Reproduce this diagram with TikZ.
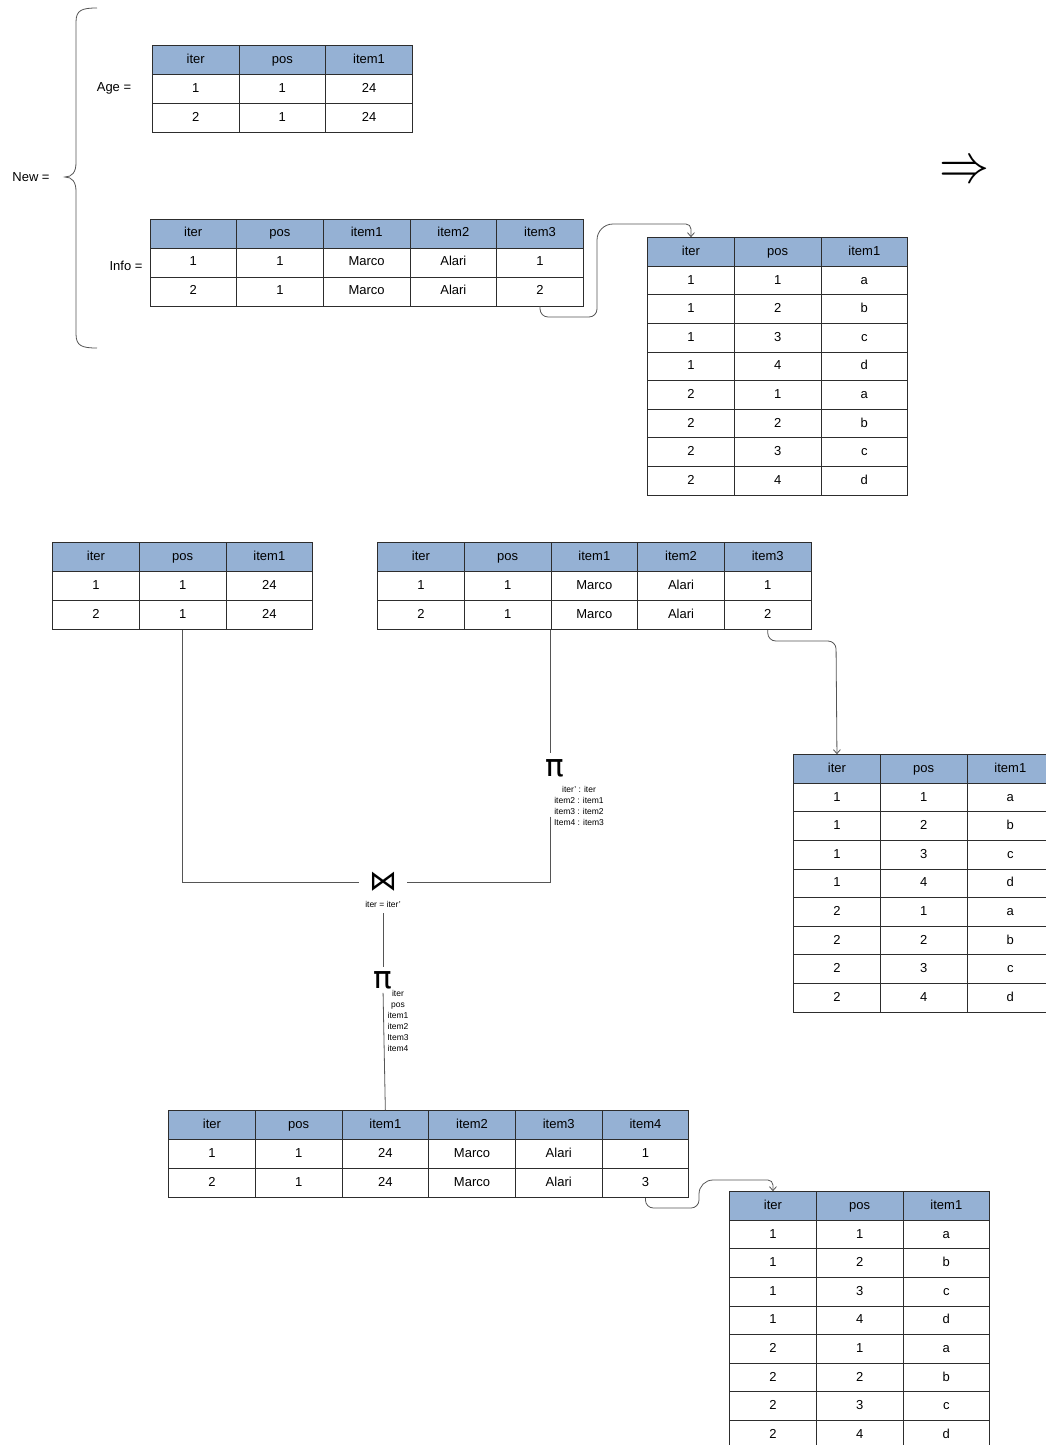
\documentclass[tikz,border=0pt]{standalone}
\usepackage{graphicx}
\usepackage{fontspec}
\setmainfont{Liberation Sans}
\newfontfamily\djvfont{DejaVu Sans}
\usepackage{tikz}
\usetikzlibrary{matrix,positioning,calc,arrows.meta}

\definecolor{hdrblue}{RGB}{149,177,212}
\definecolor{gridline}{RGB}{45,45,45}
\definecolor{linkgray}{RGB}{85,85,85}

\newcommand{\cellfont}{\fontsize{13}{15}\selectfont}
\newcommand{\smallfont}{\fontsize{8.5}{11}\selectfont}
\newcommand{\opfont}{\djvfont\fontsize{31}{31}\selectfont}
\newcommand{\joinfont}{\djvfont\fontsize{28}{28}\selectfont}
\newcommand{\implfont}{\fontsize{10}{10}\selectfont}

\begin{document}
\begin{tikzpicture}[x=1pt, y=-1pt,
    tbl/.style={matrix of nodes, anchor=north west, inner sep=0pt,
        column sep=-0.8pt, row sep=-0.8pt,
        nodes={draw=gridline, line width=0.8pt, minimum width=86.7pt,
            minimum height=29pt, inner sep=0pt, text height=9.5pt,
            text depth=2.5pt, font=\cellfont},
        row 1/.style={nodes={fill=hdrblue}}},
    longtbl/.style={tbl, nodes={minimum height=28.6pt}},
    lbl/.style={font=\cellfont, inner sep=1pt},
    op/.style={font=\opfont, inner sep=0pt},
    oplbl/.style={font=\smallfont, align=center, inner sep=0pt},
    link/.style={draw=linkgray, line width=0.8pt},
    flow/.style={link, -{Straight Barb[length=4pt, width=7pt]}}
]
\clip (0,0) rectangle (1046,1445);

% New = { Age, Info }
\node[lbl] (newlbl) at (31,177) {New =};
\draw[link] (97,8) .. controls (82,8) and (76,10) .. (76,22) -- (76,163)
    .. controls (76,172) and (72,177) .. (65,177)
    .. controls (72,177) and (76,182) .. (76,191) -- (76,334)
    .. controls (76,346) and (82,348) .. (97,348);

\node[lbl] (agelbl) at (114,88) {Age =};
\matrix[tbl] (age) at (151.7,45) {
    iter & pos & item1 \\
    1 & 1 & 24 \\
    2 & 1 & 24 \\
};

\node[lbl] (infolbl) at (126,266) {Info =};
\matrix[tbl] (info) at (149.3,218.3) {
    iter & pos & item1 & item2 & item3 \\
    1 & 1 & Marco & Alari & 1 \\
    2 & 1 & Marco & Alari & 2 \\
};

\node[inner sep=0pt] (impl) at (964,172) {\implfont\scalebox{5}[5.5]{$\Rightarrow$}};

\matrix[longtbl] (seq1) at (647,237) {
    iter & pos & item1 \\
    1 & 1 & a \\
    1 & 2 & b \\
    1 & 3 & c \\
    1 & 4 & d \\
    2 & 1 & a \\
    2 & 2 & b \\
    2 & 3 & c \\
    2 & 4 & d \\
};
\draw[flow] (info-3-5.south) [rounded corners=8pt] |- (597,317)
    [rounded corners=16pt] -- (597,224) [rounded corners=5pt] -| (seq1-1-1.north);

% join plan
\matrix[tbl] (age2) at (52,542) {
    iter & pos & item1 \\
    1 & 1 & 24 \\
    2 & 1 & 24 \\
};
\matrix[tbl] (info2) at (377,542) {
    iter & pos & item1 & item2 & item3 \\
    1 & 1 & Marco & Alari & 1 \\
    2 & 1 & Marco & Alari & 2 \\
};
\matrix[longtbl] (seq2) at (793,754) {
    iter & pos & item1 \\
    1 & 1 & a \\
    1 & 2 & b \\
    1 & 3 & c \\
    1 & 4 & d \\
    2 & 1 & a \\
    2 & 2 & b \\
    2 & 3 & c \\
    2 & 4 & d \\
};
\draw[flow] (info2-3-5.south) [rounded corners=8pt] |- (836,641)
    [rounded corners=22pt] -- (seq2-1-1.north);

\node[op] (projA) at (555,768) {π};
\node[oplbl, anchor=north] (projAlbl) at (579,786) {iter' : iter\\item2 : item1\\item3 : item2\\Item4 : item3};
\coordinate (splitA) at ($(projAlbl.south)+(0,-9)$);

\node[op, font=\joinfont, inner sep=10pt] (join) at (383,882) {⋈};
\node[oplbl] (joinlbl) at (383,904) {iter = iter'};

\draw[link, shorten >=6pt] (info2-3-3.south west) -- (info2-3-3.south west |- projA.north);
\draw[link] (info2-3-3.south west |- splitA) |- (join.east);
\draw[link] (age2-3-2.south) |- (join.west);

\node[op] (projB) at (383,980) {π};
\node[oplbl, anchor=north] (projBlbl) at (398,990) {iter\\pos\\item1\\item2\\Item3\\item4};
\draw[link, shorten <=6pt, shorten >=4pt] (joinlbl.south) -- (projB.north);

% result
\matrix[tbl] (res) at (168,1110) {
    iter & pos & item1 & item2 & item3 & item4 \\
    1 & 1 & 24 & Marco & Alari & 1 \\
    2 & 1 & 24 & Marco & Alari & 3 \\
};
\draw[link, shorten <=4pt] (projB.south) -- (res-1-3.north);

\matrix[longtbl] (seq3) at (729,1191) {
    iter & pos & item1 \\
    1 & 1 & a \\
    1 & 2 & b \\
    1 & 3 & c \\
    1 & 4 & d \\
    2 & 1 & a \\
    2 & 2 & b \\
    2 & 3 & c \\
    2 & 4 & d \\
};
\draw[flow] (res-3-6.south) [rounded corners=8pt] |- (699,1208)
    [rounded corners=14pt] -- (699,1180) [rounded corners=5pt] -| (seq3-1-1.north);

\end{tikzpicture}
\end{document}
